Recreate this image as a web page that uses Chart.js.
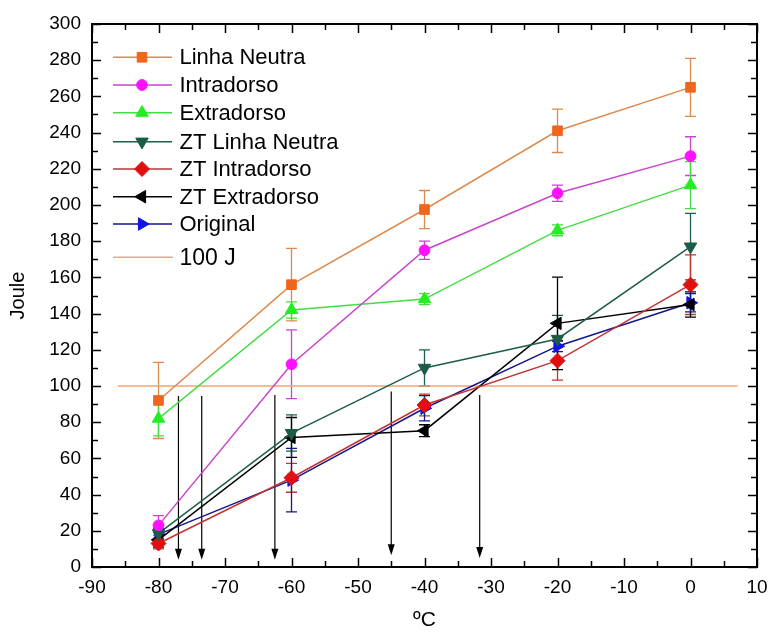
<!DOCTYPE html>
<html>
<head>
<meta charset="utf-8">
<script src="https://cdn.jsdelivr.net/npm/chart.js@4.4.1/dist/chart.umd.min.js"></script>
<style>
  html, body { margin: 0; padding: 0; background: #fff; }
</style>
</head>
<body>
<canvas id="chart" width="771" height="632"></canvas>
<script>
// temperatures (ºC)
const temps = [-80, -60, -40, -20, 0];

// energy (Joule) and error bars for each series
const linhaNeutra      = [92, 156, 197.5, 241, 265];
const linhaNeutraErr   = [21, 20, 10.5, 12, 16];
const intradorso       = [23, 112, 175, 206.5, 227];
const intradorsoErr    = [5.4, 19, 5, 4.5, 10.7];
const extradorso       = [82, 142, 148, 186, 211];
const extradorsoErr    = [9.5, 4.5, 3, 3, 13];
const ztLinhaNeutra    = [18.6, 74, 110, 126, 177];
const ztLinhaNeutraErr = [3, 10, 10, 13, 18.4];
const ztIntradorso     = [13, 49.3, 89.5, 114, 156];
const ztIntradorsoErr  = [3, 8, 6, 10.7, 16.5];
const ztExtradorso     = [15, 71.6, 75.3, 134.6, 145];
const ztExtradorsoErr  = [4, 11, 3.3, 25.5, 7];
const original         = [18, 48, 87.7, 122, 146];
const originalErr      = [3, 17.5, 7, 3, 5];

// 100 J reference line
const refLineX = [-86.1, 7.1];
const refValue = 100;

// vertical arrows (transition temperatures)
const arrowX   = [-77, -73.5, -62.5, -45, -31.7];
const arrowTop = [94.5, 94.5, 95, 97, 95];
const arrowTip = [4, 4, 4, 6.5, 5];

const FONT = "'Liberation Sans', Arial, sans-serif";

function pts(ys) { return temps.map((t, i) => ({ x: t, y: ys[i] })); }

function serie(label, ys, err, line, mark, style, rot, radius) {
    return {
        label, data: pts(ys), err,
        borderColor: line, backgroundColor: mark,
        pointBackgroundColor: mark, pointBorderColor: mark,
        pointStyle: style, pointRotation: rot, pointRadius: radius, pointHoverRadius: radius,
        pointBorderWidth: 1, borderWidth: 1.5, showLine: true, tension: 0
    };
}

const datasets = [
    serie('Linha Neutra', linhaNeutra, linhaNeutraErr, '#de8a4c', '#f0661e', 'rect', 0, 6.8),
    serie('Intradorso', intradorso, intradorsoErr, '#c845cc', '#ff10ff', 'circle', 0, 5.4),
    serie('Extradorso', extradorso, extradorsoErr, '#44dd44', '#22ee22', 'triangle', 0, 7.2),
    serie('ZT Linha Neutra', ztLinhaNeutra, ztLinhaNeutraErr, '#1d5e48', '#1a5c45', 'triangle', 180, 7.2),
    serie('ZT Intradorso', ztIntradorso, ztIntradorsoErr, '#c03434', '#e01010', 'rectRot', 0, 7.5),
    serie('ZT Extradorso', ztExtradorso, ztExtradorsoErr, '#000000', '#000000', 'triangle', 270, 7.2),
    serie('Original', original, originalErr, '#15158e', '#1212ee', 'triangle', 90, 7.2),
    {
        label: '100 J', data: refLineX.map(x => ({ x, y: refValue })),
        borderColor: '#f2a575', borderWidth: 1.5, pointRadius: 0, showLine: true, isRef: true
    }
];

const extras = {
    id: 'extras',
    beforeDatasetsDraw(chart) {
        const ctx = chart.ctx, xs = chart.scales.x, ys = chart.scales.y;
        ctx.save();
        // arrows
        ctx.strokeStyle = '#000'; ctx.fillStyle = '#000'; ctx.lineWidth = 1.2;
        arrowX.forEach((v, i) => {
            const px = xs.getPixelForValue(v);
            const y0 = ys.getPixelForValue(arrowTop[i]);
            const y1 = ys.getPixelForValue(arrowTip[i]);
            ctx.beginPath(); ctx.moveTo(px, y0); ctx.lineTo(px, y1 - 8); ctx.stroke();
            ctx.beginPath(); ctx.moveTo(px - 3.5, y1 - 11); ctx.lineTo(px + 3.5, y1 - 11); ctx.lineTo(px, y1); ctx.closePath(); ctx.fill();
        });
        // error bars
        chart.data.datasets.forEach(ds => {
            if (!ds.err) return;
            ctx.strokeStyle = ds.borderColor; ctx.lineWidth = 1.3;
            ds.data.forEach((p, i) => {
                const px = xs.getPixelForValue(p.x);
                const yt = ys.getPixelForValue(p.y + ds.err[i]);
                const yb = ys.getPixelForValue(p.y - ds.err[i]);
                ctx.beginPath();
                ctx.moveTo(px, yt); ctx.lineTo(px, yb);
                ctx.moveTo(px - 5.5, yt); ctx.lineTo(px + 5.5, yt);
                ctx.moveTo(px - 5.5, yb); ctx.lineTo(px + 5.5, yb);
                ctx.stroke();
            });
        });
        ctx.restore();
    },
    afterDraw(chart) {
        const ctx = chart.ctx, xs = chart.scales.x, ys = chart.scales.y;
        const { left, right, top, bottom } = chart.chartArea;
        ctx.save();
        // frame and inward ticks
        ctx.strokeStyle = '#000'; ctx.lineWidth = 2;
        ctx.strokeRect(left, top, right - left, bottom - top);
        ctx.lineWidth = 1.5;
        ctx.beginPath();
        for (let v = xs.min; v <= xs.max; v += 5) {
            const px = Math.round(xs.getPixelForValue(v)) + 0.5;
            const len = v % 10 === 0 ? 9 : 6;
            ctx.moveTo(px, bottom); ctx.lineTo(px, bottom - len);
            ctx.moveTo(px, top); ctx.lineTo(px, top + len);
        }
        for (let v = ys.min; v <= ys.max; v += 10) {
            const py = Math.round(ys.getPixelForValue(v)) + 0.5;
            const len = v % 20 === 0 ? 9 : 6;
            ctx.moveTo(left, py); ctx.lineTo(left + len, py);
            ctx.moveTo(right, py); ctx.lineTo(right - len, py);
        }
        ctx.stroke();

        // legend
        const rows = [57.3, 85, 112.7, 141.7, 169, 196.7, 224, 257.3];
        ctx.textBaseline = 'middle'; ctx.textAlign = 'left';
        chart.data.datasets.forEach((ds, i) => {
            const y = rows[i];
            ctx.strokeStyle = ds.borderColor; ctx.lineWidth = 1.5;
            ctx.beginPath(); ctx.moveTo(113, y); ctx.lineTo(ds.isRef ? 173 : 172, y); ctx.stroke();
            if (!ds.isRef) {
                ctx.fillStyle = ds.pointBackgroundColor; ctx.strokeStyle = ds.pointBorderColor; ctx.lineWidth = 1;
                Chart.helpers.drawPoint(ctx, { pointStyle: ds.pointStyle, rotation: ds.pointRotation, radius: ds.pointRadius, borderWidth: 1 }, 142, y);
            }
            ctx.fillStyle = '#000';
            ctx.font = (ds.isRef ? '23px ' : '22px ') + FONT;
            ctx.fillText(ds.label, 179.5, y + 1);
        });
        ctx.restore();
    }
};

new Chart(document.getElementById('chart'), {
    type: 'line',
    data: { datasets },
    options: {
        responsive: false,
        animation: false,
        events: [],
        layout: { padding: { top: 24, right: 14, left: 0, bottom: 0 } },
        plugins: { legend: { display: false }, tooltip: { enabled: false } },
        scales: {
            x: {
                type: 'linear', min: -90, max: 10,
                ticks: { stepSize: 10, padding: 9, color: '#000', font: { family: FONT, size: 19 } },
                grid: { display: false, drawTicks: false },
                border: { display: false },
                title: { display: true, text: 'ºC', color: '#000', font: { family: FONT, size: 21 }, padding: { top: 0, bottom: -1 } },
                afterFit: s => { s.height = 65; s.paddingLeft = 0; s.paddingRight = 0; }
            },
            y: {
                min: 0, max: 300,
                ticks: { stepSize: 20, padding: 11, color: '#000', font: { family: FONT, size: 19 } },
                grid: { display: false, drawTicks: false },
                border: { display: false },
                title: { display: true, text: 'Joule', color: '#000', font: { family: FONT, size: 20 }, padding: { top: 6, bottom: 0 } },
                afterFit: s => { s.width = 92; s.paddingTop = 0; s.paddingBottom = 0; }
            }
        }
    },
    plugins: [extras]
});
</script>
</body>
</html>
